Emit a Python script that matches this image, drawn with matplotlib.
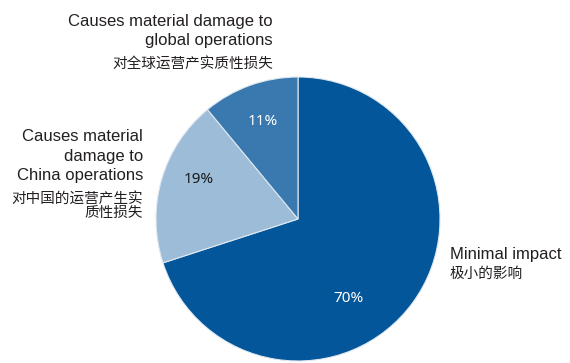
import numpy as np
import matplotlib
matplotlib.use("Agg")
import matplotlib.pyplot as plt
from matplotlib import font_manager

# --- data ---
shares = [70, 19, 11]
pct_labels = ["70%", "19%", "11%"]
names_en = ["Minimal impact",
            "Causes material\ndamage to\nChina operations",
            "Causes material damage to\nglobal operations"]
names_zh = ["极小的影响",
            "对中国的运营产生实\n质性损失",
            "对全球运营产实质性损失"]
colors = ["#03569a", "#9dbcd8", "#3a79b0"]
pct_colors = ["white", "#1a1a1a", "white"]

# pick a narrow latin face if there is one
installed = {f.name for f in font_manager.fontManager.ttflist}
latin = "Liberation Sans Narrow" if "Liberation Sans Narrow" in installed else "Liberation Sans"
fam_en = [latin, "Noto Sans CJK SC"]
fam_zh = ["Noto Sans CJK SC", "DejaVu Sans"]
txt_col = "#231f20"

W, H = 570, 363
fig = plt.figure(figsize=(W / 100, H / 100), dpi=100)
ax = fig.add_axes([0, 0, 1, 1])
ax.set_xlim(0, W)
ax.set_ylim(H, 0)
ax.set_aspect("equal")
ax.axis("off")

cx, cy, r = 298, 219, 142

# pie drawn in a second axes with normal y orientation, same pixel frame
pax = fig.add_axes([0, 0, 1, 1])
pax.set_xlim(0, W)
pax.set_ylim(0, H)
pax.set_aspect("equal")
pax.axis("off")
wedges, _ = pax.pie(shares, colors=colors, startangle=90, counterclock=False,
                    center=(cx, H - cy), radius=r,
                    wedgeprops=dict(edgecolor="#dfe8f1", linewidth=0.8))
pax.set_xlim(0, W)
pax.set_ylim(0, H)

# percentage labels, placed by (angle in deg, fraction of radius)
pct_pos = [(-57.7, 0.66), (158.5, 0.75), (110.0, 0.73)]
for lab, (ang, d), c in zip(pct_labels, pct_pos, pct_colors):
    a = np.deg2rad(ang)
    pax.text(cx + d * r * np.cos(a), H - cy + d * r * np.sin(a), lab,
             ha="center", va="center", fontsize=11, color=c, family=["Noto Sans"])

# category labels (pixel coords, y down)
# minimal impact
ax.text(450, 254, names_en[0], ha="left", va="center", fontsize=12,
        color=txt_col, family=fam_en)
ax.text(450, 274, names_zh[0], ha="left", va="center", fontsize=10.5,
        color=txt_col, family=fam_zh)
# china
ax.text(143, 156, names_en[1], ha="right", va="center", fontsize=12,
        color=txt_col, family=fam_en, linespacing=1.38, multialignment="right")
ax.text(143, 206, names_zh[1], ha="right", va="center", fontsize=10.5,
        color=txt_col, family=fam_zh, linespacing=1.05, multialignment="right")
# global
ax.text(273, 31, names_en[2], ha="right", va="center", fontsize=12,
        color=txt_col, family=fam_en, linespacing=1.38, multialignment="right")
ax.text(273, 64, names_zh[2], ha="right", va="center", fontsize=10.5,
        color=txt_col, family=fam_zh)

fig.savefig("out.png", dpi=100)
